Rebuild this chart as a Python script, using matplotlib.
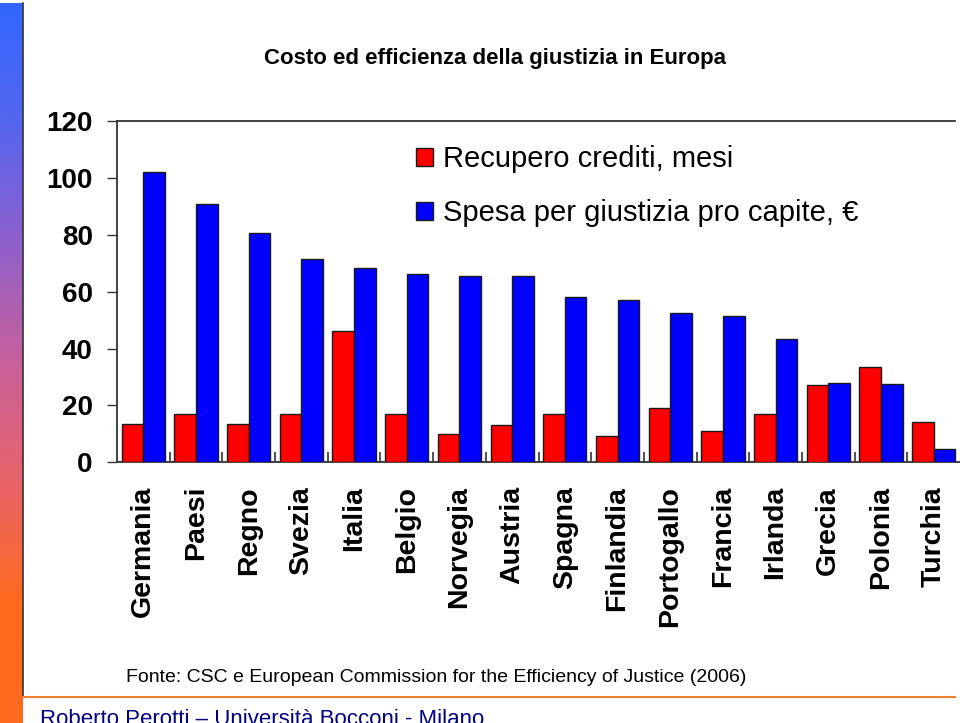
import numpy as np
import matplotlib
matplotlib.use("Agg")
import matplotlib.pyplot as plt
from matplotlib.colors import LinearSegmentedColormap
from matplotlib.lines import Line2D
from matplotlib.ticker import FixedLocator

plt.rcParams['font.family'] = ['Liberation Sans', 'DejaVu Sans']

countries = ["Germania", "Paesi", "Regno", "Svezia", "Italia", "Belgio", "Norvegia",
             "Austria", "Spagna", "Finlandia", "Portogallo", "Francia", "Irlanda",
             "Grecia", "Polonia", "Turchia"]
recupero_crediti = [13.6, 16.9, 13.6, 16.9, 46.2, 16.9, 10.1, 13.1, 16.9, 9.3,
                    19.1, 11.1, 17.0, 27.1, 33.5, 14.0]
spesa_giustizia = [102.2, 90.7, 80.6, 71.6, 68.2, 66.2, 65.4, 65.4, 58.1, 57.0,
                   52.6, 51.4, 43.3, 27.9, 27.5, 4.6]
y_ticks = [0, 20, 40, 60, 80, 100, 120]

label_red = "Recupero crediti, mesi"
label_blue = "Spesa per giustizia pro capite, \u20ac"
title = "Costo ed efficienza della giustizia in Europa"
source = "Fonte: CSC e European Commission for the Efficiency of Justice (2006)"
footer = "Roberto Perotti \u2013 Universit\u00e0 Bocconi - Milano"

W, H = 960, 723
fig = plt.figure(figsize=(W / 100, H / 100), dpi=100)
fig.patch.set_facecolor("white")

# decorative gradient bar on the left
gax = fig.add_axes([0, 0, 23 / W, 1 - 3 / H])
cmap = LinearSegmentedColormap.from_list(
    "slide", ["#3366FF", "#5566EE", "#9060CC", "#C8609A", "#E8646A", "#FF6A1E", "#FF6A1E"])
grad = np.linspace(0, 1, 256).reshape(-1, 1)
gax.imshow(grad, aspect="auto", cmap=cmap, origin="upper")
gax.set_axis_off()
fig.add_artist(Line2D([23 / W, 23 / W], [1 - 697 / H, 1 - 3 / H], color="#333333", lw=1.2))
fig.add_artist(Line2D([23 / W, 955 / W], [1 - 697 / H, 1 - 697 / H], color="#F08030", lw=1.5))

# main axes
ax = fig.add_axes([117 / W, 1 - 462.3 / H, (960 - 117) / W, (462.3 - 121) / H])
x = np.arange(len(countries))
bw = 0.41
ax.bar(x - bw / 2, recupero_crediti, width=bw, color="#FF0000", edgecolor="#1a1a1a",
       linewidth=1.0, label=label_red, zorder=3)
ax.bar(x + bw / 2, spesa_giustizia, width=bw, color="#0000FF", edgecolor="#1a1a1a",
       linewidth=1.0, label=label_blue, zorder=3)

ax.set_xlim(-0.5, len(countries) - 0.5)
ax.set_ylim(0, 120)
ax.set_yticks(y_ticks)
ax.set_yticklabels([str(v) for v in y_ticks], fontsize=20, fontweight="bold")
ax.tick_params(axis="y", direction="out", length=7.5, width=1, color="#333333", pad=10)

ax.set_xticks(x)
ax.set_xticklabels(countries, rotation=90, fontsize=20.5, fontweight="bold", va="top")
ax.tick_params(axis="x", which="major", length=0, pad=17)
ax.xaxis.set_minor_locator(FixedLocator(np.arange(0.5, len(countries) - 1, 1.0)))
ax.tick_params(axis="x", which="minor", direction="in", length=7, width=1.2, color="#333333")

for s in ["left", "bottom", "top"]:
    ax.spines[s].set_color("#333333")
    ax.spines[s].set_linewidth(1.3)
ax.spines["right"].set_visible(False)
ax.spines["top"].set_bounds(-0.5, len(countries) - 0.6)

leg = ax.legend(loc="upper left", bbox_to_anchor=((404 - 117) / (960 - 117), 0.963),
                frameon=False, fontsize=21, handlelength=0.6, handleheight=0.6,
                handletextpad=0.35, labelspacing=0.89, borderaxespad=0)

fig.text(495 / W, 1 - 58.5 / H, title, ha="center", va="center", fontsize=16, fontweight="bold")
fig.text(126 / W, 1 - 677 / H, source, ha="left", va="center", fontsize=14)
fig.text(40 / W, 1 - 709 / H, footer, ha="left", va="top", fontsize=16, color="#000080")

fig.savefig("out.png", dpi=100)
